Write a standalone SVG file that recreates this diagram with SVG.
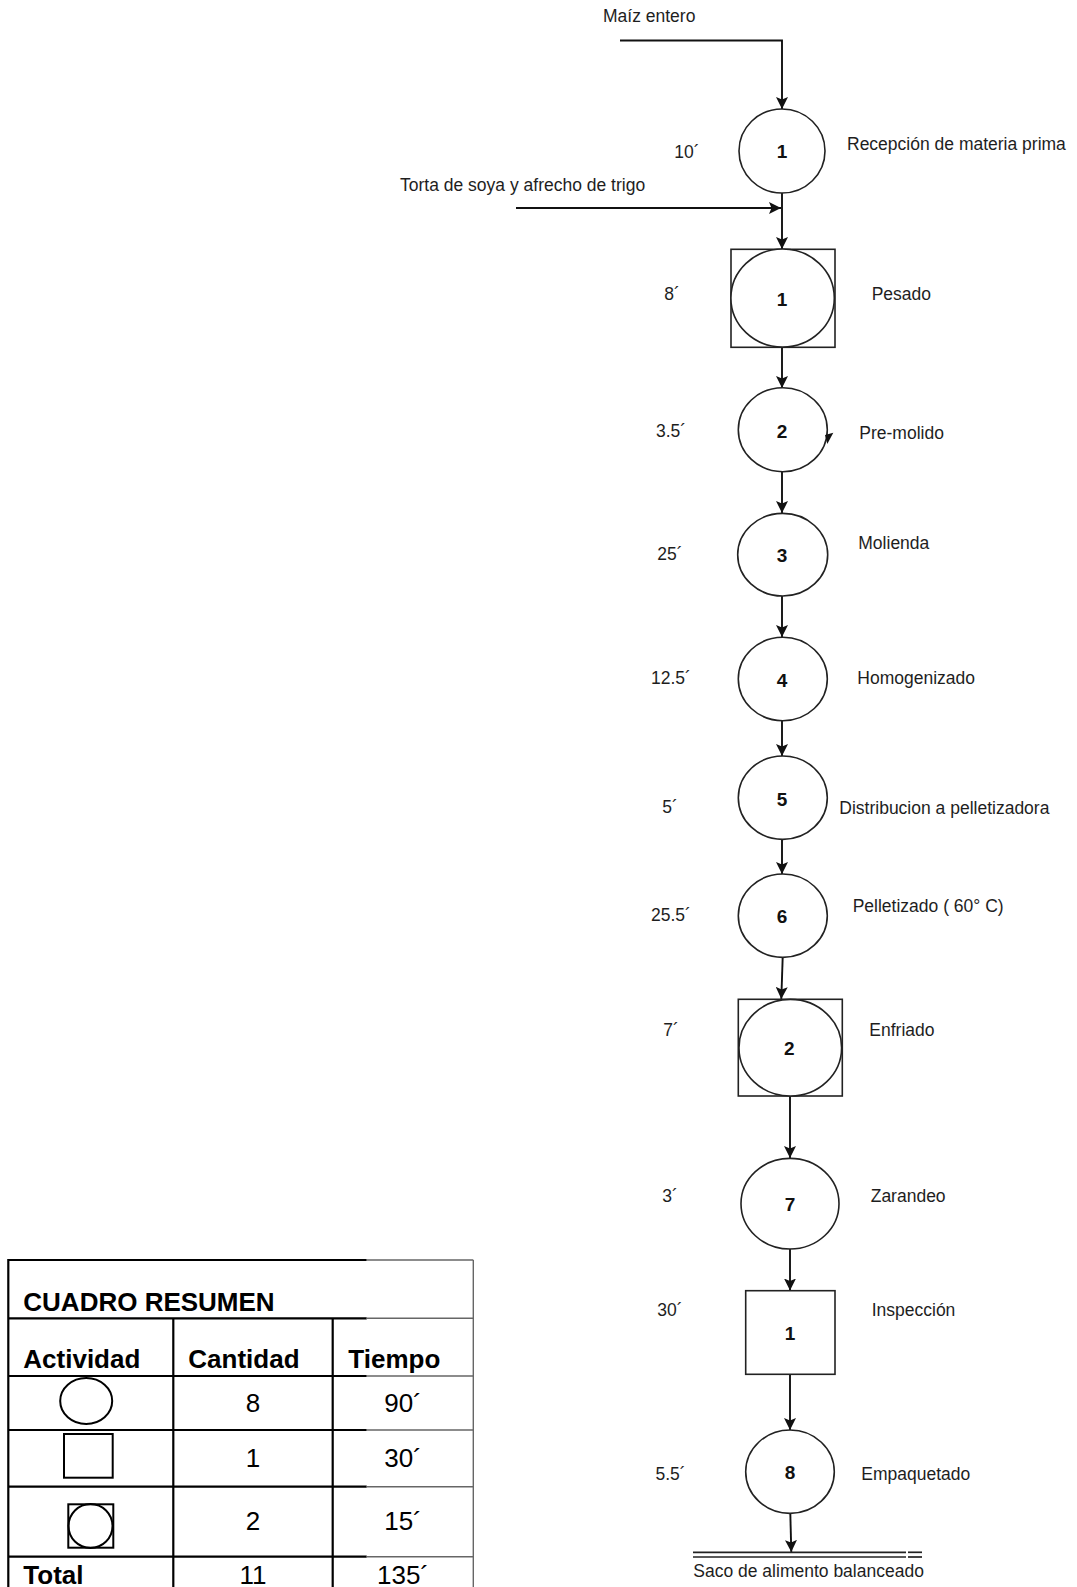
<svg xmlns="http://www.w3.org/2000/svg" width="1077" height="1587" viewBox="0 0 1077 1587">
<defs>
<marker id="ah" markerWidth="13" markerHeight="12" refX="12" refY="6" orient="auto" markerUnits="userSpaceOnUse">
<path d="M0,0 L12,6 L0,12 L2.5,6 z" fill="#111"/>
</marker>
<style>
.sh{fill:#fff;stroke:#222;stroke-width:1.6}
.ln{fill:none;stroke:#111;stroke-width:1.9;marker-end:url(#ah)}
.lb{font-family:"Liberation Sans",Arial,sans-serif;font-size:17.5px;fill:#1e1e1e}
.tm{font-family:"Liberation Sans",Arial,sans-serif;font-size:17.5px;fill:#1e1e1e;text-anchor:middle}
.nm{font-family:"Liberation Sans",Arial,sans-serif;font-size:19px;font-weight:bold;fill:#111;text-anchor:middle}
.tb{stroke:#000;stroke-width:2.2;fill:none}
.tg{stroke:#666;stroke-width:1.4;fill:none}
.th{font-family:"Liberation Sans",Arial,sans-serif;font-size:26px;font-weight:bold;fill:#000}
.tc{font-family:"Liberation Sans",Arial,sans-serif;font-size:26px;fill:#000;text-anchor:middle}
.ts{fill:none;stroke:#000;stroke-width:2}
.st{stroke:#222;stroke-width:1.7}
</style>
</defs>
<rect width="1077" height="1587" fill="#fff"/>

<g id="connectors">
<polyline class="ln" points="620,40.5 782,40.5 782,109"/>
<line class="ln" x1="782" y1="193" x2="782" y2="249"/>
<line class="ln" x1="516" y1="208" x2="781" y2="208"/>
<line class="ln" x1="782" y1="347" x2="782" y2="388"/>
<line class="ln" x1="782" y1="472" x2="782" y2="513"/>
<line class="ln" x1="782" y1="596" x2="782" y2="637"/>
<line class="ln" x1="782" y1="721" x2="782" y2="756"/>
<line class="ln" x1="782" y1="839" x2="782" y2="874"/>
<line class="ln" x1="782.7" y1="957" x2="781.3" y2="999"/>
<line class="ln" x1="790" y1="1096" x2="790" y2="1158"/>
<line class="ln" x1="790" y1="1249" x2="790" y2="1290.5"/>
<line class="ln" x1="790" y1="1374" x2="790" y2="1430"/>
<line class="ln" x1="790.3" y1="1513" x2="791.3" y2="1552"/>
</g>

<g id="input-maiz"><text class="lb" x="603" y="22">Maíz entero</text></g>
<g id="input-torta"><text class="lb" x="400" y="191">Torta de soya y afrecho de trigo</text></g>

<g id="op1">
<ellipse class="sh" cx="782" cy="151" rx="43" ry="42"/>
<text class="nm" x="782" y="158">1</text>
<text class="tm" x="687" y="158">10´</text>
<text class="lb" x="847" y="150">Recepción de materia prima</text>
</g>

<g id="comb1">
<rect class="sh" x="731" y="249.3" width="104" height="98"/>
<ellipse class="sh" cx="782.6" cy="298" rx="51.7" ry="49"/>
<text class="nm" x="782" y="305.7">1</text>
<text class="tm" x="672" y="300">8´</text>
<text class="lb" x="871.7" y="300">Pesado</text>
</g>

<g id="op2">
<ellipse class="sh" cx="782.8" cy="429.7" rx="44.5" ry="42"/>
<path d="M825,435 L833.3,432.7 L827.3,444 z" fill="#111"/>
<text class="nm" x="782" y="438.3">2</text>
<text class="tm" x="671" y="436.7">3.5´</text>
<text class="lb" x="859.3" y="439">Pre-molido</text>
</g>

<g id="op3">
<ellipse class="sh" cx="782.7" cy="554.7" rx="45" ry="41.3"/>
<text class="nm" x="782" y="561.7">3</text>
<text class="tm" x="670" y="560">25´</text>
<text class="lb" x="858.3" y="549.3">Molienda</text>
</g>

<g id="op4">
<ellipse class="sh" cx="782.8" cy="679" rx="44.5" ry="41.7"/>
<text class="nm" x="782" y="687.3">4</text>
<text class="tm" x="671" y="684">12.5´</text>
<text class="lb" x="857.3" y="684">Homogenizado</text>
</g>

<g id="op5">
<ellipse class="sh" cx="782.8" cy="797.7" rx="44.5" ry="41.7"/>
<text class="nm" x="782" y="806">5</text>
<text class="tm" x="670" y="813.3">5´</text>
<text class="lb" x="839.3" y="814">Distribucion a pelletizadora</text>
</g>

<g id="op6">
<ellipse class="sh" cx="782.8" cy="915.7" rx="44.5" ry="41.7"/>
<text class="nm" x="782" y="923.3">6</text>
<text class="tm" x="671" y="920.7">25.5´</text>
<text class="lb" x="852.7" y="911.7">Pelletizado ( 60° C)</text>
</g>

<g id="comb2">
<rect class="sh" x="738.3" y="999.3" width="104" height="96.7"/>
<ellipse class="sh" cx="790.3" cy="1047.7" rx="51.3" ry="48.3"/>
<text class="nm" x="789.3" y="1055">2</text>
<text class="tm" x="671" y="1036">7´</text>
<text class="lb" x="869.3" y="1036">Enfriado</text>
</g>

<g id="op7">
<ellipse class="sh" cx="790" cy="1203.7" rx="49" ry="45.3"/>
<text class="nm" x="790" y="1210.7">7</text>
<text class="tm" x="670" y="1201.7">3´</text>
<text class="lb" x="870.7" y="1201.7">Zarandeo</text>
</g>

<g id="insp1">
<rect class="sh" x="745.7" y="1290.7" width="89.3" height="83.6"/>
<text class="nm" x="790" y="1340">1</text>
<text class="tm" x="670" y="1316">30´</text>
<text class="lb" x="871.7" y="1316">Inspección</text>
</g>

<g id="op8">
<ellipse class="sh" cx="790" cy="1471.7" rx="44.3" ry="41.7"/>
<text class="nm" x="790" y="1479">8</text>
<text class="tm" x="670.5" y="1480">5.5´</text>
<text class="lb" x="861.3" y="1480">Empaquetado</text>
</g>

<g id="storage">
<line class="st" x1="693" y1="1552.3" x2="906" y2="1552.3"/>
<line class="st" x1="693" y1="1557" x2="906" y2="1557"/>
<line class="st" x1="908" y1="1552.3" x2="922" y2="1552.3"/>
<line class="st" x1="908" y1="1557" x2="922" y2="1557"/>
<text class="lb" x="693.3" y="1577.3">Saco de alimento balanceado</text>
</g>

<g id="summary-table">
<line class="tb" x1="8.3" y1="1260" x2="366.7" y2="1260"/>
<line class="tg" x1="366.7" y1="1260" x2="473.3" y2="1260"/>
<line class="tb" x1="8.3" y1="1318.3" x2="366.7" y2="1318.3"/>
<line class="tg" x1="366.7" y1="1318.3" x2="473.3" y2="1318.3"/>
<line class="tb" x1="8.3" y1="1376" x2="366.7" y2="1376"/>
<line class="tg" x1="366.7" y1="1376" x2="473.3" y2="1376"/>
<line class="tb" x1="8.3" y1="1430" x2="366.7" y2="1430"/>
<line class="tg" x1="366.7" y1="1430" x2="473.3" y2="1430"/>
<line class="tb" x1="8.3" y1="1486.7" x2="366.7" y2="1486.7"/>
<line class="tg" x1="366.7" y1="1486.7" x2="473.3" y2="1486.7"/>
<line class="tb" x1="8.3" y1="1556.7" x2="366.7" y2="1556.7"/>
<line class="tg" x1="366.7" y1="1556.7" x2="473.3" y2="1556.7"/>
<line class="tb" x1="8.3" y1="1259" x2="8.3" y2="1587"/>
<line class="tb" x1="173.3" y1="1318.3" x2="173.3" y2="1587"/>
<line class="tb" x1="332.7" y1="1318.3" x2="332.7" y2="1587"/>
<line class="tg" x1="473.3" y1="1260" x2="473.3" y2="1587"/>
<text class="th" x="23.3" y="1311" font-size="25">CUADRO RESUMEN</text>
<text class="th" x="23.3" y="1368.3">Actividad</text>
<text class="th" x="188.3" y="1368.3">Cantidad</text>
<text class="th" x="348.3" y="1368.3">Tiempo</text>
<ellipse class="ts" cx="86.2" cy="1401" rx="26" ry="23"/>
<text class="tc" x="253" y="1411.7">8</text>
<text class="tc" x="403" y="1411.7">90´</text>
<rect class="ts" x="64" y="1434" width="48.7" height="43.7"/>
<text class="tc" x="253" y="1467.3">1</text>
<text class="tc" x="403" y="1467.3">30´</text>
<rect class="ts" x="68.3" y="1504.3" width="45" height="43.4"/>
<ellipse class="ts" cx="90.5" cy="1526" rx="22" ry="22"/>
<text class="tc" x="253" y="1530">2</text>
<text class="tc" x="403" y="1530">15´</text>
<text class="th" x="23.3" y="1583.5">Total</text>
<text class="tc" x="253" y="1583.5">11</text>
<text class="tc" x="403" y="1583.5">135´</text>
</g>
</svg>
